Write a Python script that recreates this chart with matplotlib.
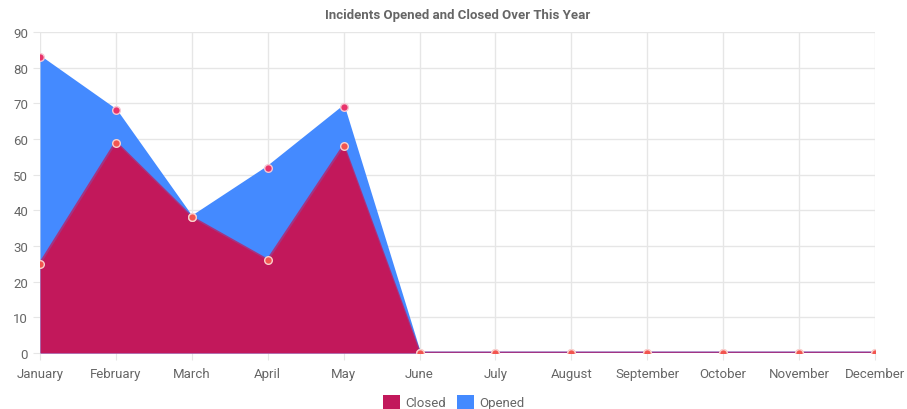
import matplotlib.pyplot as plt
import numpy as np
from matplotlib.patches import Patch

months = ['January', 'February', 'March', 'April', 'May', 'June', 'July',
          'August', 'September', 'October', 'November', 'December']
opened = [83, 68, 38, 52, 69, 0, 0, 0, 0, 0, 0, 0]
closed = [25, 59, 38, 26, 58, 0, 0, 0, 0, 0, 0, 0]

plt.rcParams['font.family'] = ['Roboto', 'DejaVu Sans']

fig = plt.figure(figsize=(9.07, 4.10), dpi=100)
ax = fig.add_axes([0.0441, 0.1366, 0.9206, 0.7829])

x = np.arange(len(months))

# areas, each filled down to zero; closed drawn in front
ax.fill_between(x, opened, 0, color='#448aff', linewidth=0, zorder=2)
ax.plot(x, opened, color='#448aff', linewidth=2, zorder=2)
ax.fill_between(x, closed, 0, color='#c2185b', linewidth=0, zorder=3)
ax.plot(x, closed, color='#c2185b', linewidth=2, alpha=0.75, zorder=3)

ax.plot(x, opened, linestyle='none', marker='o', markersize=5.5,
        markerfacecolor='#e8336b', markeredgecolor='#f5c6d2', markeredgewidth=1, zorder=4)
ax.plot(x, closed, linestyle='none', marker='o', markersize=5.5,
        markerfacecolor='#f2554f', markeredgecolor='#f9d0cc', markeredgewidth=1, zorder=5)

ax.set_xlim(0, 11)
ax.set_ylim(0, 90)
ax.set_xticks(x)
ax.set_xticklabels(months)
ax.set_yticks(np.arange(0, 91, 10))

ax.grid(True, color='#e6e6e6', linewidth=1, zorder=0)
ax.set_axisbelow(True)
for s in ax.spines.values():
    s.set_visible(False)
ax.tick_params(axis='both', colors='#e6e6e6', labelcolor='#666666', labelsize=9.5, length=5)
ax.tick_params(axis='x', pad=5)

ax.set_title('Incidents Opened and Closed Over This Year', fontsize=9.5,
             color='#666666', fontweight='bold', pad=10)

handles = [Patch(facecolor='#c2185b', label='Closed'),
           Patch(facecolor='#448aff', label='Opened')]
fig.legend(handles=handles, loc='lower center', ncol=2, frameon=False,
           fontsize=9.5, labelcolor='#666666', bbox_to_anchor=(0.5, -0.03),
           handlelength=1.3, handleheight=1.3, handletextpad=0.4, columnspacing=0.8)

plt.savefig('out.png', dpi=100)
